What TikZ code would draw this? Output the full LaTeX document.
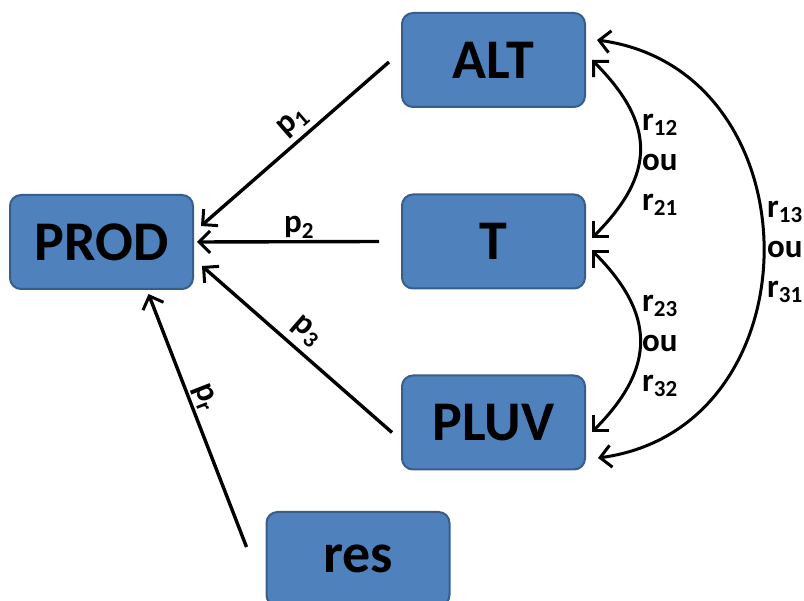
\documentclass[tikz,border=0pt]{standalone}
\usepackage{fontspec}
\setmainfont{Carlito}
\usetikzlibrary{arrows.meta}
\definecolor{boxblue}{HTML}{4F81BD}
\definecolor{boxedge}{HTML}{385D8A}
% lowered, reduced index for the coefficient labels
\newcommand\idx[1]{\raisebox{-0.35ex}{\fontsize{23}{23}\selectfont #1}}
\begin{document}
\begin{tikzpicture}[x=1pt,y=-1pt,
  box/.style={draw=boxedge, line width=2pt, fill=boxblue, rounded corners=11pt,
    minimum width=183pt, minimum height=94pt, inner sep=0pt,
    font=\fontsize{56}{60}\selectfont\bfseries},
  barb/.tip={Straight Barb[length=11pt,width=22pt,line width=3pt]},
  link/.style={line width=3.4pt, -barb},
  both/.style={line width=3pt, barb-barb},
  lbl/.style={font=\fontsize{33}{40}\selectfont\bfseries, inner sep=2pt}]
\useasboundingbox (0,0) rectangle (804,601);
\clip (0,0) rectangle (804,601);

% variables
\node[box] (prod) at (101.5,242) {PROD};
\node[box] (alt)  at (493.5,60)  {ALT};
\node[box] (t)    at (493.5,241.5) {T};
\node[box] (pluv) at (493.5,422.5) {PLUV};
\node[box] (res)  at (358,559) {res};

% path coefficients
\draw[link] ([xshift=-12pt,yshift=-2pt]alt.west) --
  node[lbl,sloped,above=3pt,pos=0.45] {p\idx{1}} ([xshift=7pt,yshift=16pt]prod.east);
\draw[link] ([xshift=-22pt]t.west) --
  node[lbl,above,pos=0.44] {p\idx{2}} ([xshift=3pt]prod.east);
\draw[link] ([xshift=-9pt,yshift=-10pt]pluv.west) --
  node[lbl,sloped,above=5pt,pos=0.52] {p\idx{3}} ([xshift=8pt,yshift=-24pt]prod.east);
\draw[link] ([xshift=-19pt,yshift=12pt]res.west) --
  node[lbl,sloped,above,pos=0.57] {p\idx{r}} ([xshift=47pt,yshift=-4pt]prod.south);

% correlations
\draw[both] ([xshift=6pt]alt.east) .. controls +(64,64) and +(64,-64) ..
  ([xshift=6pt,yshift=3.5pt]t.east);
\draw[both] ([xshift=6pt,yshift=-9pt]t.east) .. controls +(64,64) and +(64,-64) ..
  ([xshift=6pt,yshift=-9.5pt]pluv.east);
\draw[both] ([xshift=11pt,yshift=20pt]alt.east) .. controls +(221,30) and +(221,-30) ..
  ([xshift=12pt,yshift=-35.5pt]pluv.east);

\node[lbl,align=left,anchor=west] (c12) at (640,165) {r\idx{12}\\ou\\r\idx{21}};
\node[lbl,align=left,anchor=west] (c23) at (640,346) {r\idx{23}\\ou\\r\idx{32}};
\node[lbl,align=left,anchor=west] (c13) at (765,252) {r\idx{13}\\ou\\r\idx{31}};
\end{tikzpicture}
\end{document}
